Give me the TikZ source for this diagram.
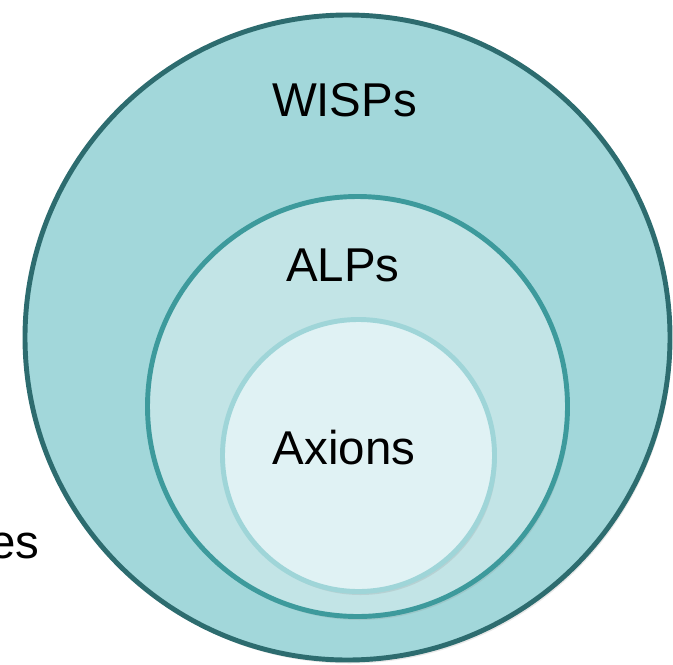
\documentclass[tikz,border=0pt]{standalone}
\usepackage{fontspec}
\setmainfont{Liberation Sans}
\usepackage{tikz}
\usetikzlibrary{shadows}

\definecolor{wispfill}{HTML}{A2D7DA}
\definecolor{wispline}{HTML}{2D6C6F}
\definecolor{alpfill}{HTML}{C2E4E6}
\definecolor{alpline}{HTML}{3D9A9C}
\definecolor{axionfill}{HTML}{E0F2F4}
\definecolor{axionline}{HTML}{9FD5D8}

\tikzset{
    set/.style={circle, line width=2.8pt, inner sep=0pt,
        drop shadow={opacity=.18, shadow xshift=.04cm, shadow yshift=-.07cm}},
    setlabel/.style={font=\fontsize{27}{31}\selectfont, inner sep=0pt}
}

\begin{document}
\begin{tikzpicture}
    \useasboundingbox (0, 0) rectangle (13.46, -13.28);

    \node[set, draw=wispline, fill=wispfill, minimum size=12.9cm] (wisps) at (6.95, -6.75) {};
    \node[set, draw=alpline, fill=alpfill, minimum size=8.4cm] (alps) at (7.15, -8.13) {};
    \node[set, draw=axionline, fill=axionfill, minimum size=5.44cm] (axions) at (7.17, -9.11) {};

    \node[setlabel] (lw) at (6.89, -2.00) {WISPs};
    \node[setlabel] (la) at (6.86, -5.30) {ALPs};
    \node[setlabel] (lx) at (6.88, -8.95) {Axions};

    \node[setlabel, anchor=base east] (les) at (0.80, -11.17) {es};
\end{tikzpicture}
\end{document}
